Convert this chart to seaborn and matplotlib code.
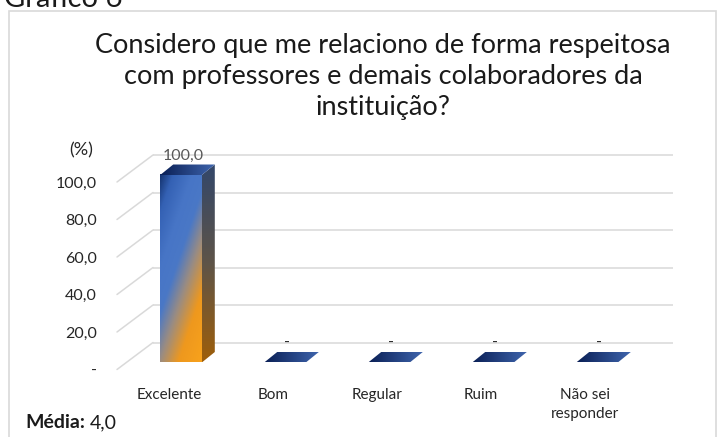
import numpy as np
import matplotlib
matplotlib.use("Agg")
import matplotlib.pyplot as plt
import seaborn as sns
from matplotlib.patches import Polygon, Rectangle
from matplotlib.transforms import IdentityTransform, ScaledTranslation
from matplotlib.colors import LinearSegmentedColormap
from matplotlib.lines import Line2D

# data
categories = ["Excelente", "Bom", "Regular", "Ruim", "Não sei\nresponder"]
values = [100.0, 0.0, 0.0, 0.0, 0.0]
y_ticks = [0, 20, 40, 60, 80, 100]
title = ("Considero que me relaciono de forma respeitosa\n"
         "com professores e demais colaboradores da\n"
         "instituição?")
media = "4,0"


def fmt(v):
    return "-" if v == 0 else f"{v:.1f}".replace(".", ",")


sns.set_style("white")
plt.rcParams["font.family"] = ["Lato", "DejaVu Sans"]

W, H = 721, 437
fig = plt.figure(figsize=(W / 100, H / 100), dpi=100)
ax = fig.add_axes([117 / W, 67.5 / H, 520 / W, 187.5 / H])

sns.barplot(x=categories, y=values, width=0.4, color="#2F5597", ax=ax)
ax.set_xlim(-0.5, 4.5)
ax.set_ylim(0, 100)
ax.set_autoscale_on(False)
sns.despine(ax=ax, left=True, bottom=True)

# pseudo 3d offsets (pixels)
FRONT = (12, 7)     # bar front face relative to the floor front edge
DEPTH = (13, 10.5)  # bar depth
WALL = (36, 27)     # back wall relative to the floor front edge

grid_c = "#D9D9D9"
wall_tr = ax.get_yaxis_transform() + ScaledTranslation(WALL[0] / 100, WALL[1] / 100, fig.dpi_scale_trans)
ax.hlines(y_ticks, 0, 1, transform=wall_tr, colors=grid_c, lw=1.1, zorder=0, clip_on=False)
for t in y_ticks:
    x0, y0 = ax.get_yaxis_transform().transform((0, t))
    ax.add_line(Line2D([x0, x0 + WALL[0]], [y0, y0 + WALL[1]], transform=IdentityTransform(),
                       color=grid_c, lw=1.1, zorder=0, clip_on=False))

front_cmap = LinearSegmentedColormap.from_list(
    "front", [(0, "#14336F"), (0.12, "#3461B4"), (0.3, "#4775C6"), (0.45, "#4A78C6"),
              (0.6, "#9A8C82"), (0.78, "#EE981E"), (1, "#F8A21C")])
side_cmap = LinearSegmentedColormap.from_list("side", ["#33476A", "#5E5448", "#9E5E0A"])
top_cmap = LinearSegmentedColormap.from_list("top", ["#0A1F55", "#3E64AC"])

off = ax.transData + ScaledTranslation(FRONT[0] / 100, FRONT[1] / 100, fig.dpi_scale_trans)
ident = IdentityTransform()

for bar, v in zip(ax.patches, values):
    bar.set_visible(False)
    x0 = bar.get_x()
    x1 = x0 + bar.get_width()
    h = bar.get_height()
    (X0, Y0), (X1, Y1) = off.transform([(x0, 0), (x1, h)])
    dx, dy = DEPTH

    if h > 0:
        # front face gradient
        u = np.linspace(0, 1, 60)[None, :]
        w = np.linspace(0, 1, 200)[:, None]
        s = (w + 0.65 * u) / 1.65
        im = ax.imshow(front_cmap(s), extent=(x0, x1, 0, h), transform=off, aspect="auto",
                       interpolation="bilinear", zorder=3)
        im.set_clip_box(fig.bbox)
        # side face
        side = Polygon([(X1, Y0), (X1, Y1), (X1 + dx, Y1 + dy), (X1 + dx, Y0 + dy)],
                       closed=True, transform=ident, fc="none", ec="none")
        ax.add_patch(side)
        sv = np.linspace(0, 1, 200)[:, None] * np.ones((1, 10))
        im = ax.imshow(side_cmap(sv), extent=(X1, X1 + dx, Y0, Y1 + dy), transform=ident,
                       aspect="auto", interpolation="bilinear", zorder=3)
        im.set_clip_path(side)
        im.set_clip_box(fig.bbox)

    top = Polygon([(X0, Y1), (X1, Y1), (X1 + dx, Y1 + dy), (X0 + dx, Y1 + dy)],
                  closed=True, transform=ident, fc="none", ec="none")
    ax.add_patch(top)
    tu = np.ones((10, 1)) * np.linspace(0, 1, 80)[None, :]
    im = ax.imshow(top_cmap(tu), extent=(X0, X1 + dx, Y1, Y1 + dy), transform=ident,
                   aspect="auto", interpolation="bilinear", zorder=4)
    im.set_clip_path(top)
    im.set_clip_box(fig.bbox)

    ax.annotate(fmt(v), xy=(x0 + bar.get_width() / 2, h), xytext=(FRONT[0] + 2, FRONT[1] + 19.5),
                textcoords="offset pixels", ha="center", va="center", fontsize=11.5,
                color="#595959" if v else "#262626", zorder=5, annotation_clip=False)

ax.set_xlim(-0.5, 4.5)
ax.set_ylim(0, 100)
ax.set_yticks(y_ticks)
ax.set_yticklabels([fmt(t) for t in y_ticks])
ax.tick_params(axis="y", length=0, pad=14.5, labelsize=11.5, labelcolor="#262626")
ax.tick_params(axis="x", length=0, pad=13, labelsize=11, labelcolor="#262626")
for lab in ax.get_xticklabels():
    lab.set_linespacing(1.45)
ax.set_xlabel("")
ax.set_ylabel("")
ax.grid(False)

fig.text(81 / W, 1 - 150 / H, "(%)", ha="center", va="center", fontsize=13, color="#262626")
fig.text(383 / W, 1 - 33 / H, title, ha="center", va="top", fontsize=19.5,
         linespacing=1.3, multialignment="center", color="#1A1A1A")
fig.text(25 / W, 1 - 423 / H, "Média:", ha="left", va="center", fontsize=14,
         fontweight="bold", color="#1A1A1A")
fig.text(90 / W, 1 - 423 / H, media, ha="left", va="center", fontsize=14, color="#1A1A1A")
fig.text(4 / W, 1 - 7 / H, "Gráfico 6", ha="left", va="baseline", fontsize=21, color="#1A1A1A")

fig.add_artist(Rectangle((8.5 / W, -0.05), 707 / W, 1.05 - 10.5 / H, transform=fig.transFigure,
                         fill=False, ec="#D9D9D9", lw=1.2))

fig.savefig("out.png", dpi=100)
